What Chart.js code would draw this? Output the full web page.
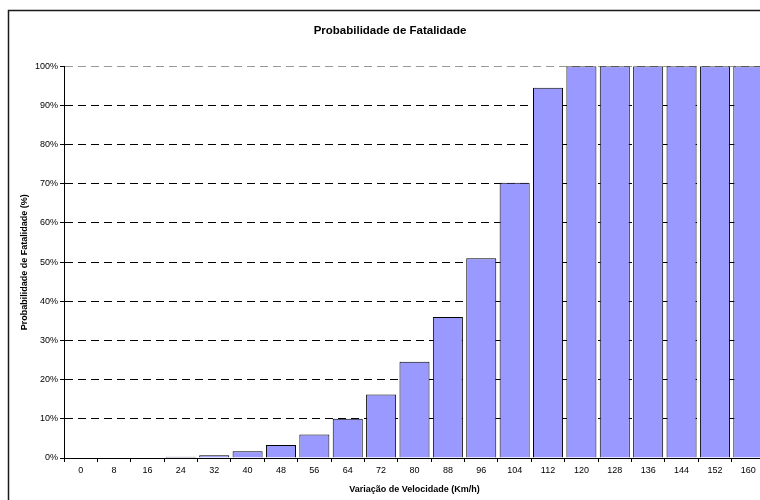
<!DOCTYPE html>
<html>
<head>
<meta charset="utf-8">
<script src="https://cdn.jsdelivr.net/npm/chart.js@4.4.1/dist/chart.umd.min.js"></script>
<style>
    html, body { margin: 0; padding: 0; background: #fff; overflow: hidden; }
    #wrap { width: 760px; height: 500px; overflow: hidden; }
</style>
</head>
<body>
<div id="wrap">
    <canvas id="graficoFatalidade" width="780" height="520"></canvas>
</div>
<script>
const velocidades = ['0', '8', '16', '24', '32', '40', '48', '56', '64', '72', '80',
    '88', '96', '104', '112', '120', '128', '136', '144', '152', '160'];
const probFatalidade = [0, 0, 0, 0.3, 0.7, 1.7, 3.3, 6.0, 10.0, 16.2, 24.6,
    36.0, 51.0, 70.3, 94.5, 100, 100, 100, 100, 100, 100];

const tituloGrafico = 'Probabilidade de Fatalidade';
const tituloEixoX = 'Variação de Velocidade (Km/h)';
const tituloEixoY = 'Probabilidade de Fatalidade (%)';

const fonte = 'Arial, "Liberation Sans", sans-serif';

// moldura preta em volta do grafico
const moldura = {
    id: 'moldura',
    beforeDraw(chart) {
        const ctx = chart.ctx;
        ctx.save();
        ctx.fillStyle = '#fff';
        ctx.fillRect(0, 0, chart.width, chart.height);
        ctx.strokeStyle = '#1a1a1a';
        ctx.lineWidth = 1.5;
        ctx.strokeRect(8.5, 10.5, 900, 700);
        ctx.restore();
    }
};

const graficoFatalidade = new Chart('graficoFatalidade', {
    type: 'bar',
    data: {
        labels: velocidades,
        datasets: [{
            label: tituloGrafico,
            data: probFatalidade,
            backgroundColor: '#9999ff',
            borderColor: '#000',
            borderWidth: 1,
            barPercentage: 0.9,
            categoryPercentage: 1.0
        }]
    },
    options: {
        responsive: false,
        animation: false,
        layout: {
            padding: { left: 15, top: 0, right: 15, bottom: 0 }
        },
        plugins: {
            legend: { display: false },
            tooltip: { enabled: false },
            title: {
                display: true,
                text: tituloGrafico,
                color: '#000',
                font: { family: fonte, size: 11.5, weight: 'bold' },
                padding: { top: 23.5, bottom: 29 }
            }
        },
        scales: {
            x: {
                afterFit(scale) { scale.height = 62; },
                grid: {
                    offset: true,
                    drawOnChartArea: false,
                    tickLength: 4,
                    tickColor: '#000'
                },
                border: { color: '#000', width: 1 },
                ticks: {
                    color: '#000',
                    font: { family: fonte, size: 9 },
                    padding: 3,
                    maxRotation: 0,
                    autoSkip: false
                },
                title: {
                    display: true,
                    text: tituloEixoX,
                    color: '#000',
                    font: { family: fonte, size: 9, weight: 'bold' },
                    padding: { top: 0, bottom: 25 }
                }
            },
            y: {
                min: 0,
                max: 100,
                afterFit(scale) { scale.width = 49; },
                grid: {
                    color: (c) => {
                        if (c.tick && c.tick.value === 0) return 'rgba(0,0,0,0)';
                        if (c.tick && c.tick.value === 100) return '#999';
                        return '#000';
                    },
                    tickLength: 4,
                    tickColor: '#000'
                },
                border: { color: '#000', width: 1, dash: [8, 5] },
                ticks: {
                    stepSize: 10,
                    color: '#000',
                    font: { family: fonte, size: 9 },
                    padding: 2,
                    callback: (v) => v + '%'
                },
                title: {
                    display: true,
                    text: tituloEixoY,
                    color: '#000',
                    font: { family: fonte, size: 9, weight: 'bold' },
                    padding: { top: 4, bottom: 0 }
                }
            }
        }
    },
    plugins: [moldura]
});
</script>
</body>
</html>
